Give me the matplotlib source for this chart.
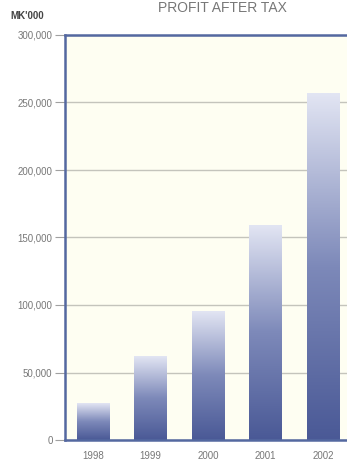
import matplotlib
matplotlib.use("Agg")
import matplotlib.pyplot as plt
import numpy as np
from matplotlib.colors import LinearSegmentedColormap

plt.rcParams['font.family'] = ['Liberation Sans', 'DejaVu Sans']

# profit after tax, MK'000
years = ['1998', '1999', '2000', '2001', '2002']
profit = [27000, 62000, 95000, 159000, 257000]
yticks = [0, 50000, 100000, 150000, 200000, 250000, 300000]

fig = plt.figure(figsize=(3.47, 4.69), dpi=100)
fig.patch.set_facecolor('white')
ax = fig.add_axes([65 / 347, 1 - 440 / 469, 1 - 65 / 347, 405 / 469])
ax.set_facecolor('#fefef2')

# gradient bars: light at top, dark blue at bottom
cmap = LinearSegmentedColormap.from_list('bar', ['#4a5996', '#7d89b9', '#e2e5f3'])
grad = np.linspace(0, 1, 256).reshape(-1, 1)
w = 0.56
x = np.arange(len(years))
for xi, v in zip(x, profit):
    ax.imshow(grad, cmap=cmap, origin='lower', aspect='auto',
              extent=[xi - w / 2, xi + w / 2, 0, v], zorder=3)

ax.set_xlim(-0.49, 4.42)
ax.set_ylim(0, 300000)
ax.set_yticks(yticks)
ax.set_yticklabels([f'{t:,}' for t in yticks])
ax.set_xticks(x)
ax.set_xticklabels(years)

ax.grid(axis='y', color='#c4c4bc', linewidth=1.0, zorder=1)
ax.tick_params(axis='y', length=7, color='#a0a0a0', labelcolor='#777777',
               labelsize=7, pad=2)
ax.tick_params(axis='x', length=0, labelcolor='#777777', labelsize=7, pad=8)

for s in ['left', 'bottom', 'top']:
    ax.spines[s].set_color('#5468a0')
    ax.spines[s].set_linewidth(1.8)
    ax.spines[s].set_zorder(4)
ax.spines['right'].set_visible(False)

fig.text(0.64, 0.998, 'PROFIT AFTER TAX', ha='center', va='top',
         fontsize=10, color='#777777')
fig.text(10 / 347, 1 - 16 / 469, "MK'000", ha='left', va='center',
         fontsize=7, fontweight='bold', color='#444444')

fig.savefig('out.png', dpi=100)
